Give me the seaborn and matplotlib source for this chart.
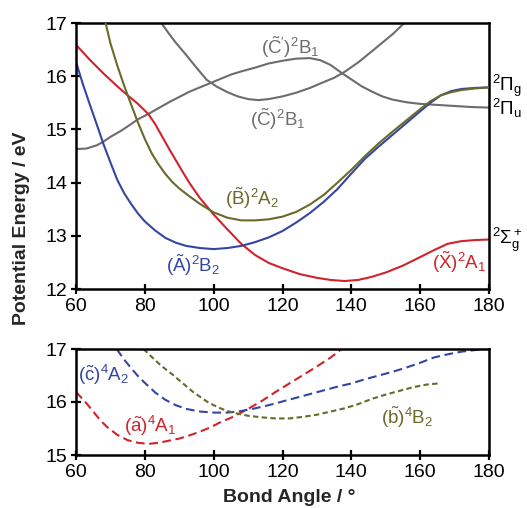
import matplotlib
matplotlib.use("Agg")
import matplotlib.pyplot as plt
import seaborn as sns

# ---- doublet states (upper panel) ----
x_X2A1 = [60, 64, 68, 72, 75, 78, 81, 83, 85, 87, 89, 91, 93, 96, 100, 104, 108, 112, 116,
          120, 125, 130, 134, 138, 142, 146, 150, 155, 160, 164, 168, 172, 176, 180]
y_X2A1 = [16.59, 16.31, 16.05, 15.81, 15.64, 15.48, 15.29, 15.10, 14.87, 14.64, 14.42, 14.20,
          13.99, 13.71, 13.40, 13.12, 12.85, 12.64, 12.49, 12.39, 12.28, 12.21, 12.17, 12.15,
          12.17, 12.23, 12.31, 12.44, 12.60, 12.73, 12.85, 12.90, 12.92, 12.93]

x_A2B2 = [60, 62, 64, 66, 68, 70, 72, 74, 76, 78, 80, 83, 86, 89, 92, 96, 100, 104, 108, 112,
          116, 120, 124, 128, 132, 136, 140, 144, 148, 152, 156, 160, 163, 166, 169, 172, 176, 180]
y_A2B2 = [16.27, 15.85, 15.47, 15.10, 14.72, 14.38, 14.05, 13.80, 13.60, 13.42, 13.27, 13.10,
          12.96, 12.87, 12.81, 12.77, 12.75, 12.77, 12.81, 12.88, 12.97, 13.09, 13.25, 13.43,
          13.64, 13.88, 14.17, 14.45, 14.68, 14.90, 15.12, 15.34, 15.50, 15.64, 15.72, 15.76,
          15.78, 15.79]

x_B2A2 = [68.6, 70, 72, 74, 76, 78, 80, 82, 84, 86, 88, 90, 93, 96, 100, 104, 108, 112, 116,
          120, 124, 128, 132, 136, 140, 144, 148, 152, 156, 160, 163, 166, 169, 172, 176, 180]
y_B2A2 = [17.0, 16.62, 16.20, 15.82, 15.47, 15.13, 14.82, 14.55, 14.34, 14.16, 14.01, 13.89,
          13.74, 13.60, 13.44, 13.34, 13.29, 13.29, 13.31, 13.36, 13.45, 13.59, 13.77, 14.00,
          14.24, 14.50, 14.74, 14.96, 15.17, 15.38, 15.53, 15.64, 15.70, 15.74, 15.77, 15.79]

x_C2B1_a = [60, 63, 66, 68, 70, 73, 76, 78, 81, 84, 87, 90, 93, 96, 99, 102, 105, 108, 112, 116,
            120, 124, 128, 131, 134, 137, 140, 143, 146, 149, 152, 156, 160, 165, 170, 175, 180]
y_C2B1_a = [14.63, 14.64, 14.70, 14.77, 14.86, 14.97, 15.10, 15.19, 15.29, 15.40, 15.51, 15.61,
            15.71, 15.79, 15.87, 15.95, 16.03, 16.09, 16.16, 16.24, 16.29, 16.33, 16.34, 16.30,
            16.21, 16.07, 15.94, 15.81, 15.71, 15.62, 15.56, 15.51, 15.48, 15.46, 15.44, 15.42,
            15.41]

x_C2B1_b = [84.8, 87, 89, 92, 95, 98, 101, 104, 107, 110, 113, 116, 120, 124, 128, 132, 135,
            138, 142, 146, 149, 152, 155.4]
y_C2B1_b = [17.0, 16.80, 16.63, 16.40, 16.16, 15.93, 15.80, 15.70, 15.62, 15.57, 15.55, 15.57,
            15.62, 15.69, 15.78, 15.89, 15.97, 16.08, 16.26, 16.47, 16.63, 16.79, 17.0]

# ---- quartet states (lower panel) ----
x_a4A1 = [60, 63, 65, 67, 69, 72, 75, 78, 81, 84, 87, 90, 93, 96, 99, 102, 106, 110, 114, 118,
          122, 126, 130, 134, 137.2]
y_a4A1 = [16.19, 15.98, 15.82, 15.66, 15.53, 15.38, 15.28, 15.23, 15.21, 15.23, 15.27, 15.31,
          15.37, 15.44, 15.52, 15.62, 15.73, 15.87, 16.02, 16.19, 16.35, 16.51, 16.67, 16.84,
          17.0]

x_c4A2 = [71.8, 74, 76, 78, 80, 83, 86, 89, 92, 96, 100, 104, 108, 112, 116, 120, 124, 128, 132,
          136, 140, 144, 148, 152, 156, 160, 164, 168, 172, 176, 178]
y_c4A2 = [17.0, 16.80, 16.64, 16.49, 16.36, 16.18, 16.04, 15.94, 15.87, 15.82, 15.80, 15.80,
          15.83, 15.88, 15.94, 16.01, 16.08, 16.15, 16.22, 16.29, 16.35, 16.43, 16.50, 16.57,
          16.65, 16.74, 16.84, 16.90, 16.95, 16.98, 17.0]

x_b4B2 = [79.6, 82, 84, 86, 88, 90, 92, 94, 96, 98, 100, 102, 104, 107, 110, 114, 118, 122, 126,
          130, 134, 138, 142, 146, 150, 154, 158, 162, 165.3]
y_b4B2 = [17.0, 16.85, 16.73, 16.62, 16.52, 16.41, 16.30, 16.19, 16.10, 16.01, 15.94, 15.88,
          15.83, 15.78, 15.74, 15.71, 15.69, 15.69, 15.72, 15.76, 15.82, 15.88, 15.96, 16.06,
          16.14, 16.21, 16.28, 16.33, 16.35]

x_ticks = [60, 80, 100, 120, 140, 160, 180]
y_ticks_top = [12, 13, 14, 15, 16, 17]
y_ticks_bottom = [15, 16, 17]

RED = "#d0232c"
BLUE = "#3446a4"
OLIVE = "#686a2a"
GRAY = "#6c6c6c"

sns.set_style("ticks")
plt.rcParams["font.family"] = ["Liberation Sans", "DejaVu Sans"]
plt.rcParams["mathtext.fontset"] = "custom"
plt.rcParams["mathtext.rm"] = "Liberation Sans"
plt.rcParams["mathtext.sf"] = "Liberation Sans"
plt.rcParams["mathtext.it"] = "Liberation Sans:italic"
plt.rcParams["mathtext.bf"] = "Liberation Sans:bold"
plt.rcParams["mathtext.default"] = "regular"
plt.rcParams["lines.solid_joinstyle"] = "round"
plt.rcParams["lines.dash_joinstyle"] = "round"

fig = plt.figure(figsize=(5.27, 5.08), dpi=100)
ax1 = fig.add_axes([76 / 527, 1 - 289 / 508, 413 / 527, 266 / 508])
ax2 = fig.add_axes([76 / 527, 1 - 455 / 508, 413 / 527, 106 / 508])

LW = 1.5


def curve(ax, xs, ys, color, ls="-", z=2):
    sns.lineplot(x=xs, y=ys, ax=ax, color=color, lw=LW, linestyle=ls,
                 estimator=None, sort=False, zorder=z)


curve(ax1, x_C2B1_a, y_C2B1_a, GRAY)
curve(ax1, x_C2B1_b, y_C2B1_b, GRAY)
curve(ax1, x_X2A1, y_X2A1, RED)
curve(ax1, x_A2B2, y_A2B2, BLUE)
curve(ax1, x_B2A2, y_B2A2, OLIVE, z=3)

curve(ax2, x_a4A1, y_a4A1, RED, ls=(0, (4.2, 2.2)))
curve(ax2, x_c4A2, y_c4A2, BLUE, ls=(0, (4.2, 2.2)))
curve(ax2, x_b4B2, y_b4B2, OLIVE, ls=(0, (2.6, 1.6)))

for ax, yt in ((ax1, y_ticks_top), (ax2, y_ticks_bottom)):
    ax.set_xlim(60, 180)
    ax.set_ylim(yt[0], yt[-1])
    ax.set_xticks(x_ticks)
    ax.set_yticks(yt)
    ax.tick_params(direction="inout", length=7, width=1.6, labelsize=14, pad=3,
                   colors="black")
    for s in ax.spines.values():
        s.set_visible(True)
        s.set_linewidth(1.8)
        s.set_color("black")
    ax.set_xlabel("")
    ax.set_ylabel("")

tkw = dict(fontsize=13.5, ha="center", va="center")
ax1.text(122.2, 16.55, r"$(\tilde{\mathrm{C}}')^2\mathrm{B}_1$", color=GRAY, **tkw)
ax1.text(118.7, 15.20, r"$(\tilde{\mathrm{C}})^2\mathrm{B}_1$", color=GRAY, **tkw)
ax1.text(111.1, 13.71, r"$(\tilde{\mathrm{B}})^2\mathrm{A}_2$", color=OLIVE, **tkw)
ax1.text(94.0, 12.45, r"$(\tilde{\mathrm{A}})^2\mathrm{B}_2$", color=BLUE, **tkw)
ax1.text(171.3, 12.51, r"$(\tilde{\mathrm{X}})^2\mathrm{A}_1$", color=RED, **tkw)

rkw = dict(fontsize=13.5, ha="left", va="center", color="black",
           transform=ax1.get_yaxis_transform())
ax1.text(1.008, 15.82, r"$^2\Pi_\mathrm{g}$", **rkw)
ax1.text(1.008, 15.40, r"$^2\Pi_\mathrm{u}$", **rkw)
ax1.text(1.008, 12.92, r"$^2\Sigma_\mathrm{g}^+$", **rkw)

ax2.text(68.1, 16.51, r"$(\tilde{\mathrm{c}})^4\mathrm{A}_2$", color=BLUE, **tkw)
ax2.text(81.5, 15.55, r"$(\tilde{\mathrm{a}})^4\mathrm{A}_1$", color=RED, **tkw)
ax2.text(156.2, 15.72, r"$(\tilde{\mathrm{b}})^4\mathrm{B}_2$", color=OLIVE, **tkw)

fig.text(22 / 527, 1 - 228 / 508, "Potential Energy / eV", rotation=90, fontsize=14,
         fontweight="bold", ha="center", va="center")
fig.text(289 / 527, 1 - 497 / 508, "Bond Angle / \u00b0", fontsize=14,
         fontweight="bold", ha="center", va="center")

fig.savefig("out.png", dpi=100, facecolor="white")
